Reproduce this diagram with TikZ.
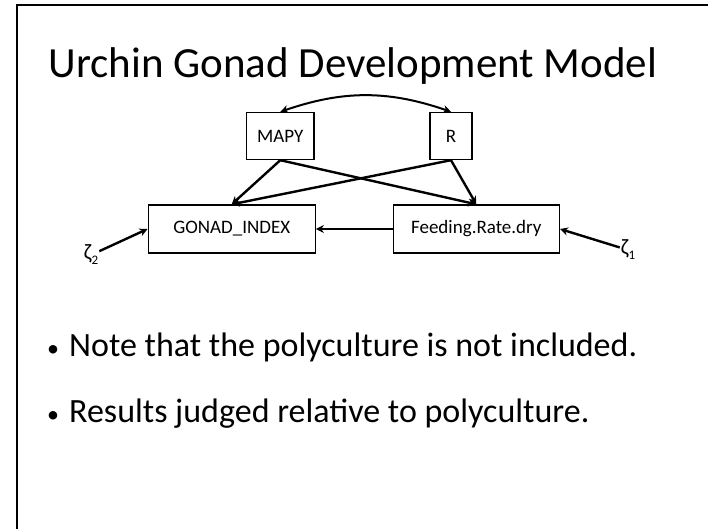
\documentclass[tikz,border=0pt]{standalone}
\usepackage{fontspec}
\setmainfont{Carlito}
\usetikzlibrary{arrows.meta}
\begin{document}
\begin{tikzpicture}[x=1pt,y=-1pt,
  box/.style={draw,line width=1.4pt,inner sep=0pt,font=\fontsize{19}{22}\selectfont},
  conn/.style={line width=2.4pt,-{Stealth[length=8pt,width=8pt]}},
  zeta/.style={inner sep=1pt,font=\fontsize{22}{24}\selectfont},
  bul/.style={anchor=base west,inner sep=0pt,font=\fontsize{34}{38}\selectfont}]
\useasboundingbox (0,0) rectangle (708,528);
\draw[line width=2pt] (17,540) coordinate (fl) -- (17,5) coordinate (ft) -- (720,5) coordinate (fr);
\node[anchor=base,inner sep=0pt,font=\fontsize{43}{50}\selectfont] (title) at (353,77) {Urchin Gonad Development Model};
\node[box,minimum width=67.5pt,minimum height=47pt] (mapy) at (280.3,136) {MAPY};
\node[box,minimum width=42pt,minimum height=47pt] (r) at (451,136) {R};
\node[box,minimum width=167pt,minimum height=48pt] (gonad) at (231.7,229) {GONAD\_INDEX};
\node[box,minimum width=166pt,minimum height=48pt] (feed) at (476.3,229) {Feeding.Rate.dry};
\node[zeta] (z2) at (91,255) {ζ\raisebox{-5pt}{\fontsize{13}{13}\selectfont 2}};
\node[zeta] (z1) at (628,250) {ζ\raisebox{-5pt}{\fontsize{13}{13}\selectfont 1}};
\draw[line width=2pt,{Stealth[length=8pt,width=8pt]}-{Stealth[length=8pt,width=8pt]}] (mapy.north) to[bend left=19] (r.north);
\draw[conn] (mapy.south) -- (gonad.north);
\draw[conn] (mapy.south) -- (feed.north);
\draw[conn] (r.south) -- (gonad.north);
\draw[conn] (r.south) -- (feed.north);
\draw[conn] (feed.west) -- (gonad.east);
\draw[conn] (z2) -- (gonad.west);
\draw[conn] (z1) -- (feed.east);
\node[bul] (b1) at (47,356) {{\fontsize{24}{24}\selectfont•}\hspace{10pt}Note that the polyculture is not included.};
\node[bul] (b2) at (47,422) {{\fontsize{24}{24}\selectfont•}\hspace{10pt}Results judged relative to polyculture.};
\end{tikzpicture}
\end{document}
